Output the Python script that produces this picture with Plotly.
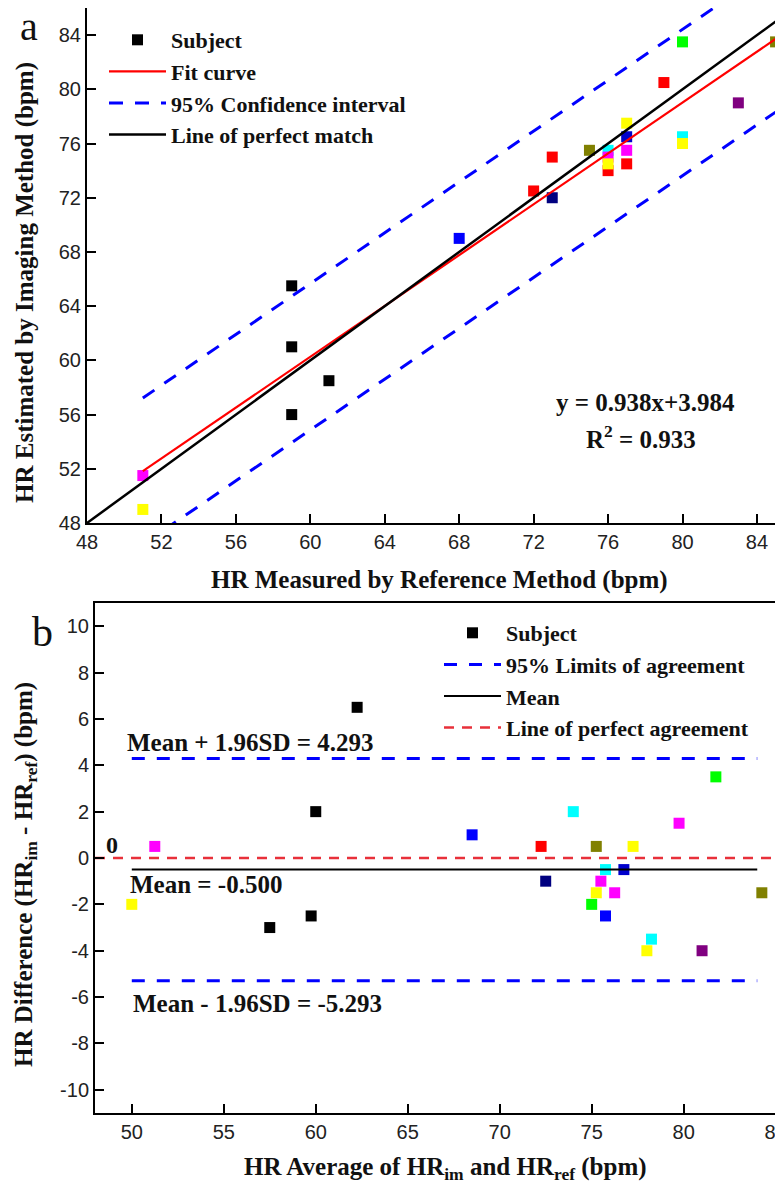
import plotly.graph_objects as go

IMG_W, IMG_H = 783, 1192
OFF = 8  # page body margin offset
W, H = IMG_W - OFF, IMG_H - OFF

# ---------------- Panel a data ----------------
ref_hr = [59, 59, 59, 61, 51, 51, 68, 72, 73, 73, 75, 76, 76, 76, 76, 77, 77, 77, 77, 79, 80, 80, 80, 83, 85]
im_hr = [65.5, 61, 56, 58.5, 51.5, 49, 69, 72.5, 72, 75, 75.5, 75.5, 75, 74, 74.5, 77.5, 76.5, 75.5, 74.5, 80.5, 83.5, 76.5, 76, 79, 83.5]
colors_a = ["#000000", "#000000", "#000000", "#000000", "#FF00FF", "#FFFF00", "#0000FF", "#FF0000",
            "#000080", "#FF0000", "#808000", "#00FFFF", "#FF00FF", "#FF0000", "#FFFF00", "#FFFF00",
            "#0000CC", "#FF00FF", "#FF0000", "#FF0000", "#00FF00", "#00FFFF", "#FFFF00", "#800080", "#808000"]
fit_slope = 0.938
fit_intercept = 3.984
r_squared = 0.933
fit_x = [51, 85]
ci_half = 5.4
match_x = [48, 86]
a_xticks = [48, 52, 56, 60, 64, 68, 72, 76, 80, 84]
a_yticks = [48, 52, 56, 60, 64, 68, 72, 76, 80, 84]

# ---------------- Panel b data ----------------
avg_hr = [62.25, 60, 57.5, 59.75, 50, 51.25, 68.5, 72.25, 72.5, 74, 75.25, 77.25, 79.75, 81.75,
          75.75, 76.75, 75.5, 75.25, 76.25, 75, 75.75, 78.25, 78, 81, 84.25]
diff_hr = [6.5, 2, -3, -2.5, -2, 0.5, 1, 0.5, -1, 2, 0.5, 0.5, 1.5, 3.5,
           -0.5, -0.5, -1, -1.5, -1.5, -2, -2.5, -3.5, -4, -4, -1.5]
colors_b = ["#000000", "#000000", "#000000", "#000000", "#FFFF00", "#FF00FF", "#0000FF", "#FF0000",
            "#000080", "#00FFFF", "#808000", "#FFFF00", "#FF00FF", "#00FF00", "#00FFFF", "#0000CC",
            "#FF00FF", "#FFFF00", "#FF00FF", "#00FF00", "#0000FF", "#00FFFF", "#FFFF00", "#800080", "#808000"]
mean_diff = -0.500
loa_upper = 4.293
loa_lower = -5.293
loa_x = [50, 84]
zero_x = [48, 86]
b_xticks = [50, 55, 60, 65, 70, 75, 80, 85]
b_yticks = [-10, -8, -6, -4, -2, 0, 2, 4, 6, 8, 10]


def px(x):
    return (x - OFF) / W


def py(y):
    return 1 - (y - OFF) / H


fig = go.Figure()

# ----- panel a traces -----
fig.add_trace(go.Scatter(x=ref_hr, y=im_hr, mode="markers", name="Subject",
                         marker=dict(symbol="square", size=11, color=colors_a, line=dict(width=0)),
                         xaxis="x", yaxis="y", legend="legend", legendgroup="a1"))
fig.add_trace(go.Scatter(x=fit_x, y=[fit_slope * v + fit_intercept for v in fit_x], mode="lines",
                         name="Fit curve", line=dict(color="#FF0000", width=2.2),
                         xaxis="x", yaxis="y", legend="legend", legendgroup="a2"))
ci_x = fit_x + [None] + fit_x
ci_y = [fit_slope * v + fit_intercept + ci_half for v in fit_x] + [None] + \
       [fit_slope * v + fit_intercept - ci_half for v in fit_x]
fig.add_trace(go.Scatter(x=ci_x, y=ci_y, mode="lines", name="95% Confidence interval",
                         line=dict(color="#0000FF", width=3, dash="14px,12px"),
                         xaxis="x", yaxis="y", legend="legend", legendgroup="a3"))
fig.add_trace(go.Scatter(x=match_x, y=match_x, mode="lines", name="Line of perfect match",
                         line=dict(color="#000000", width=2.5),
                         xaxis="x", yaxis="y", legend="legend", legendgroup="a4"))

# ----- panel b traces -----
fig.add_trace(go.Scatter(x=avg_hr, y=diff_hr, mode="markers", name="Subject",
                         marker=dict(symbol="square", size=11, color=colors_b, line=dict(width=0)),
                         xaxis="x2", yaxis="y2", legend="legend2", legendgroup="b1"))
fig.add_trace(go.Scatter(x=loa_x + [None] + loa_x, y=[loa_upper] * 2 + [None] + [loa_lower] * 2,
                         mode="lines", name="95% Limits of agreement",
                         line=dict(color="#0000FF", width=3, dash="13px,12px"),
                         xaxis="x2", yaxis="y2", legend="legend2", legendgroup="b2"))
fig.add_trace(go.Scatter(x=loa_x, y=[mean_diff] * 2, mode="lines", name="Mean",
                         line=dict(color="#000000", width=2),
                         xaxis="x2", yaxis="y2", legend="legend2", legendgroup="b3"))
fig.add_trace(go.Scatter(x=zero_x, y=[0, 0], mode="lines", name="Line of perfect agreement",
                         line=dict(color="#E8303A", width=2.5, dash="10px,8px"),
                         xaxis="x2", yaxis="y2", legend="legend2", legendgroup="b4"))

serif = "Liberation Serif"
sans = "Liberation Sans"
tickfont = dict(family=sans, size=20, color="#222222")
axis_common = dict(showgrid=False, zeroline=False, showline=True, linewidth=2, linecolor="#000000",
                   ticks="inside", ticklen=9, tickwidth=2, tickcolor="#000000", tickfont=tickfont,
                   automargin=False, ticklabeloverflow="allow")

legend_common = dict(font=dict(family=serif, size=22, color="#111111", weight="bold"),
                     bgcolor="rgba(0,0,0,0)", borderwidth=0, itemwidth=57,
                     traceorder="grouped", tracegroupgap=0, xanchor="left", yanchor="top",
                     itemclick=False)

fig.update_layout(
    template="none",
    width=W, height=H,
    margin=dict(l=0, r=0, t=0, b=0, pad=0, autoexpand=False),
    paper_bgcolor="white", plot_bgcolor="white",
    showlegend=True,
    xaxis=dict(domain=[px(87), 1], range=[48, 85.4], tickvals=a_xticks, anchor="y", mirror=True,
               **axis_common),
    yaxis=dict(domain=[py(523), py(8)], range=[48, 86], tickvals=a_yticks, anchor="x", **axis_common),
    xaxis2=dict(domain=[px(95), 1], range=[48, 85.4], tickvals=b_xticks, anchor="y2", mirror=True,
                **axis_common),
    yaxis2=dict(domain=[py(1113), py(603)], range=[-11, 11], tickvals=b_yticks,
                ticktext=[str(v) for v in b_yticks], anchor="x2", **axis_common),
    legend=dict(x=px(104), y=py(19), **legend_common),
    legend2=dict(x=px(439), y=py(612), **legend_common),
)

bold_font = dict(family=serif, size=24, color="#111111", weight="bold")
title_font = dict(family=serif, size=25, color="#111111", weight="bold")
annos = [
    # panel labels
    dict(text="a", x=px(29), y=py(27), font=dict(family=serif, size=40, color="#111111")),
    dict(text="b", x=px(42), y=py(632), font=dict(family=serif, size=42, color="#111111")),
    # axis titles
    dict(text="HR Measured by Reference Method (bpm)", x=px(440), y=py(580), font=title_font),
    dict(text="HR Estimated by Imaging Method (bpm)", x=px(25), y=py(283), textangle=-90, font=title_font),
    dict(text="HR Average of HR<sub>im</sub> and HR<sub>ref</sub> (bpm)", x=px(445), y=py(1168), font=title_font),
    dict(text="HR Difference (HR<sub>im</sub> - HR<sub>ref</sub>) (bpm)", x=px(25), y=py(875),
         textangle=-90, font=title_font),
    # fit text
    dict(text=f"y = {fit_slope:.3f}x+{fit_intercept:.3f}", x=px(645), y=py(402), font=title_font),
    dict(text=f"R<sup>2</sup> = {r_squared:.3f}", x=px(641), y=py(437), font=title_font),
    # Bland-Altman labels
    dict(text=f"Mean + 1.96SD = {loa_upper:.3f}", x=px(250), y=py(743), font=title_font),
    dict(text="0", x=px(112), y=py(845), font=bold_font),
    dict(text=f"Mean = {mean_diff:.3f}", x=px(206), y=py(884), font=title_font),
    dict(text=f"Mean - 1.96SD = {loa_lower:.3f}", x=px(257), y=py(1003), font=title_font),
]
for a in annos:
    a.update(xref="paper", yref="paper", showarrow=False, xanchor="center", yanchor="middle")
fig.update_layout(annotations=annos)

fig.write_html("out.html")
